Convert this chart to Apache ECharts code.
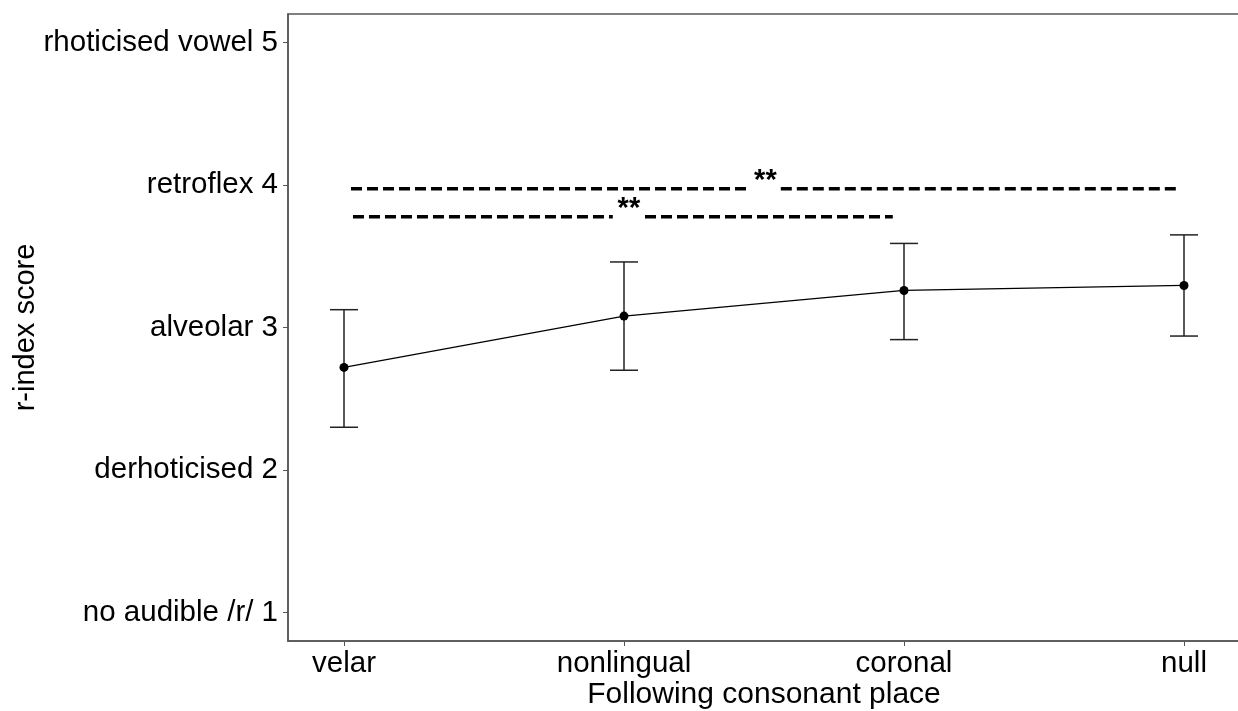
<!DOCTYPE html>
<html>
<head>
<meta charset="utf-8">
<script src="https://cdn.jsdelivr.net/npm/echarts@6/dist/echarts.min.js"></script>
<style>
  html, body { margin: 0; padding: 0; background: #fff; }
  #chart { width: 1238px; height: 711px; }
</style>
</head>
<body>
<div id="chart"></div>
<script>
// categories on the x axis
var places = ["velar", "nonlingual", "coronal", "null"];
// y tick labels (values 1..5)
var yTicks = [1, 2, 3, 4, 5];
var yTickLabels = ["no audible /r/ 1", "derhoticised 2", "alveolar 3", "retroflex 4", "rhoticised vowel 5"];

// mean r-index and error bar limits
var means = [2.72, 3.08, 3.26, 3.295];
var lower = [2.30, 2.70, 2.915, 2.94];
var upper = [3.125, 3.46, 3.59, 3.65];

// significance brackets: [start, gapStart, gapEnd, end] along x, height on y
var sig1X = [0.025, 1.45, 1.56, 2.975];
var sig1Y = 3.973;
var sig2X = [0.032, 0.96, 1.075, 1.96];
var sig2Y = 3.777;
var sigLabel = "**";

document.addEventListener("DOMContentLoaded", function () {
    var chart = echarts.init(document.getElementById("chart"));
    var font = "Liberation Sans, Arial, sans-serif";
    var axisGray = "#555";

    function sigLine(xs, y) {
        return [[xs[0], y], [xs[1], y], [null, null], [xs[2], y], [xs[3], y]];
    }

    var meanData = means.map(function (m, i) { return [i, m]; });
    var barData = means.map(function (m, i) { return [i, lower[i], upper[i]]; });

    var option = {
        animation: false,
        grid: {
            left: 288, top: 14, right: -2, bottom: 70,
            containLabel: false,
            outerBoundsMode: "none",
            show: true, borderColor: axisGray, borderWidth: 1.5
        },
        xAxis: {
            type: "value",
            min: -0.2,
            max: 3.2,
            name: "Following consonant place",
            nameLocation: "middle",
            nameGap: 39,
            nameMoveOverlap: false,
            nameTextStyle: { color: "#000", fontSize: 30, fontFamily: font },
            axisLine: { onZero: false, lineStyle: { color: axisGray, width: 1.5 } },
            axisTick: { customValues: [0, 1, 2, 3], length: 5, lineStyle: { color: axisGray } },
            axisLabel: {
                customValues: [0, 1, 2, 3],
                margin: 8,
                color: "#000",
                fontSize: 29.5,
                fontFamily: font,
                formatter: function (v) { return places[Math.round(v)]; }
            },
            splitLine: { show: false }
        },
        yAxis: {
            type: "value",
            min: 0.8,
            max: 5.2,
            name: "r-index score",
            nameLocation: "middle",
            nameRotate: 90,
            nameGap: 248,
            nameMoveOverlap: false,
            nameTextStyle: { color: "#000", fontSize: 29, fontFamily: font },
            axisLine: { show: true, onZero: false, lineStyle: { color: axisGray, width: 1.5 } },
            axisTick: { show: true, customValues: yTicks, length: 5, lineStyle: { color: axisGray } },
            axisLabel: {
                customValues: yTicks,
                margin: 10,
                color: "#000",
                fontSize: 29.5,
                fontFamily: font,
                formatter: function (v) { return yTickLabels[Math.round(v) - 1]; }
            },
            splitLine: { show: false }
        },
        series: [
            {
                type: "custom",
                data: barData,
                renderItem: function (params, api) {
                    var top = api.coord([api.value(0), api.value(2)]);
                    var bot = api.coord([api.value(0), api.value(1)]);
                    var hw = 14;
                    var style = { stroke: "#222", lineWidth: 1.5 };
                    return {
                        type: "group",
                        children: [
                            { type: "line", shape: { x1: top[0], y1: top[1], x2: bot[0], y2: bot[1] }, style: style },
                            { type: "line", shape: { x1: top[0] - hw, y1: top[1], x2: top[0] + hw, y2: top[1] }, style: style },
                            { type: "line", shape: { x1: bot[0] - hw, y1: bot[1], x2: bot[0] + hw, y2: bot[1] }, style: style }
                        ]
                    };
                },
                z: 2
            },
            {
                type: "line",
                data: meanData,
                symbol: "circle",
                symbolSize: 9,
                itemStyle: { color: "#000" },
                lineStyle: { color: "#000", width: 1.2 },
                z: 3
            },
            {
                type: "line",
                data: sigLine(sig1X, sig1Y),
                symbol: "none",
                connectNulls: false,
                lineStyle: { color: "#000", width: 3.5, type: [11, 5] },
                z: 4
            },
            {
                type: "line",
                data: sigLine(sig2X, sig2Y),
                symbol: "none",
                connectNulls: false,
                lineStyle: { color: "#000", width: 3.5, type: [11, 5] },
                z: 4
            },
            {
                type: "scatter",
                data: [[(sig1X[1] + sig1X[2]) / 2, sig1Y], [(sig2X[1] + sig2X[2]) / 2, sig2Y]],
                symbolSize: 0,
                itemStyle: { color: "#000", opacity: 1 },
                label: {
                    show: true,
                    position: "inside",
                    formatter: sigLabel,
                    color: "#000",
                    opacity: 1,
                    fontSize: 29,
                    fontWeight: "bold",
                    fontFamily: font,
                    offset: [0, -8]
                },
                z: 5
            }
        ]
    };

    chart.setOption(option);
});
</script>
</body>
</html>
